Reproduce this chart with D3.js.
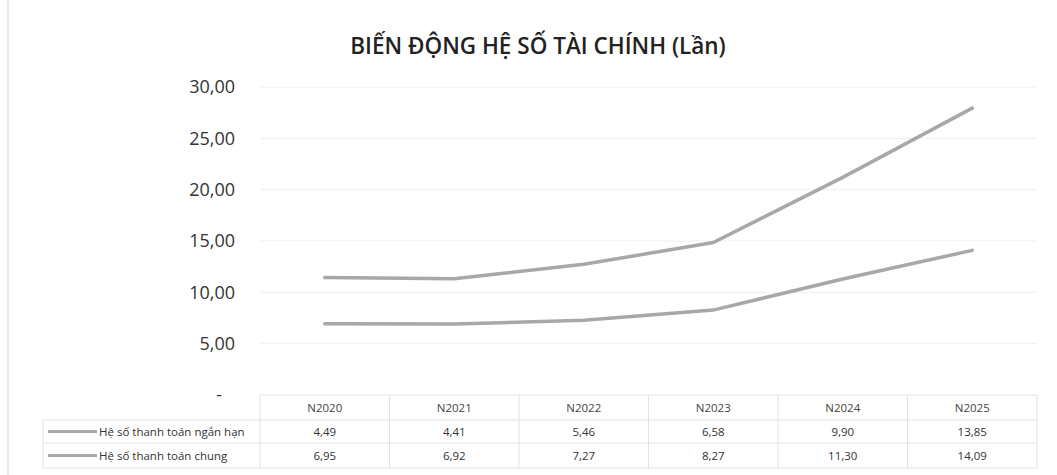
<!DOCTYPE html>
<html>
<head>
<meta charset="utf-8">
<script src="https://cdn.jsdelivr.net/npm/d3@7/dist/d3.min.js"></script>
<style>
  html, body { margin: 0; padding: 0; background: #fff; }
  svg { display: block; font-family: "Open Sans", "Noto Sans", sans-serif; }
</style>
</head>
<body>
<svg id="chart" width="1057" height="475"></svg>
<script>
const title = "BIẾN ĐỘNG HỆ SỐ TÀI CHÍNH (Lần)";
const categories = ["N2020", "N2021", "N2022", "N2023", "N2024", "N2025"];
const seriesNames = ["Hệ số thanh toán ngắn hạn", "Hệ số thanh toán chung"];
const nganHan = [4.49, 4.41, 5.46, 6.58, 9.90, 13.85];
const chung = [6.95, 6.92, 7.27, 8.27, 11.30, 14.09];
const yTicks = [0, 5, 10, 15, 20, 25, 30];

const svg = d3.select("#chart");
const W = 1057, H = 475;
const plotLeft = 260, plotRight = 1037, plotTop = 87, plotBottom = 395;

const rows = categories.map((c, i) => ({ cat: c, chung: chung[i], nganHan: nganHan[i] }));
const stack = d3.stack().keys(["chung", "nganHan"]);
const stacked = stack(rows);

const x = d3.scaleBand().domain(categories).range([plotLeft, plotRight]);
const y = d3.scaleLinear().domain([0, 30]).range([plotBottom, plotTop]);

// faint scan frame
svg.append("line").attr("x1", 8).attr("x2", 8).attr("y1", 0).attr("y2", H)
  .attr("stroke", "#e2e2e2").attr("stroke-width", 1.5);

// title
svg.append("text").attr("x", 538).attr("y", 54).attr("text-anchor", "middle")
  .attr("font-size", 22.5).attr("font-weight", 600).attr("fill", "#222").text(title);

// gridlines
svg.append("g").selectAll("line").data(yTicks.filter(d => d > 0)).join("line")
  .attr("x1", plotLeft).attr("x2", plotRight)
  .attr("y1", d => y(d)).attr("y2", d => y(d))
  .attr("stroke", "#efefef").attr("stroke-width", 1);

// y axis
const fmt = d => d === 0 ? "-" : d3.format(".2f")(d).replace(".", ",");
const yAxis = svg.append("g").attr("transform", `translate(${plotLeft - 25},0)`)
  .call(d3.axisLeft(y).tickValues(yTicks).tickFormat(fmt).tickSize(0).tickPadding(0));
yAxis.select(".domain").remove();
yAxis.selectAll("text").attr("font-size", 18).attr("fill", "#333")
  .attr("font-family", "'Open Sans', sans-serif")
  .attr("dx", d => d === 0 ? -13 : 0);

// lines
const line = d3.line().x((d, i) => x(categories[i]) + x.bandwidth() / 2).y(d => y(d[1]));
svg.append("g").selectAll("path").data(stacked).join("path")
  .attr("d", s => line(s)).attr("fill", "none")
  .attr("stroke", "#a8a8a8").attr("stroke-width", 3.5).attr("stroke-linecap", "round");

// data table
const tbl = svg.append("g");
const rowTop = [395, 420, 443], rowBot = [420, 443, 468];
const border = "#e2e2e2";
tbl.append("line").attr("x1", plotLeft).attr("x2", plotRight).attr("y1", 395).attr("y2", 395).attr("stroke", border);
tbl.append("line").attr("x1", 43).attr("x2", plotRight).attr("y1", 420).attr("y2", 420).attr("stroke", border);
tbl.append("line").attr("x1", 43).attr("x2", plotRight).attr("y1", 443).attr("y2", 443).attr("stroke", border);
tbl.append("line").attr("x1", 43).attr("x2", plotRight).attr("y1", 468).attr("y2", 468).attr("stroke", border);
tbl.append("line").attr("x1", 43).attr("x2", 43).attr("y1", 420).attr("y2", 468).attr("stroke", border);
tbl.selectAll("line.v").data(categories).join("line").attr("class", "v")
  .attr("x1", d => x(d)).attr("x2", d => x(d)).attr("y1", 395).attr("y2", 468).attr("stroke", border);
tbl.append("line").attr("x1", plotRight).attr("x2", plotRight).attr("y1", 395).attr("y2", 468).attr("stroke", border);

// header
tbl.selectAll("text.h").data(categories).join("text").attr("class", "h")
  .attr("x", d => x(d) + x.bandwidth() / 2).attr("y", 412)
  .attr("text-anchor", "middle").attr("font-size", 11.5).attr("fill", "#444").text(d => d);

// rows
const tableSeries = [nganHan, chung];
tableSeries.forEach((vals, r) => {
  const cy = (rowTop[r + 1] + rowBot[r + 1]) / 2;
  tbl.append("line").attr("x1", 48).attr("x2", 97).attr("y1", cy).attr("y2", cy)
    .attr("stroke", "#a8a8a8").attr("stroke-width", 3);
  tbl.append("text").attr("x", 99).attr("y", cy + 4).attr("font-size", 11.5)
    .attr("fill", "#333").text(seriesNames[r]);
  tbl.selectAll(null).data(vals).join("text")
    .attr("x", (d, i) => x(categories[i]) + x.bandwidth() / 2).attr("y", cy + 4)
    .attr("text-anchor", "middle").attr("font-size", 11.5).attr("fill", "#333")
    .text(d => d3.format(".2f")(d).replace(".", ","));
});
</script>
</body>
</html>
